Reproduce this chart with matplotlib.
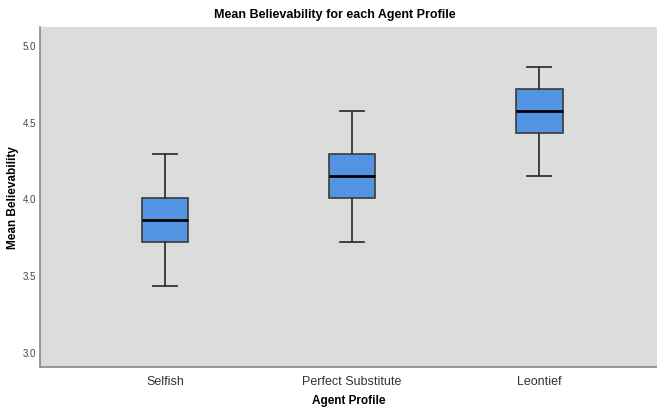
import matplotlib
matplotlib.use("Agg")
import matplotlib.pyplot as plt

plt.rcParams['font.family'] = ['Liberation Sans', 'DejaVu Sans']

categories = ["Selfish", "Perfect Substitute", "Leontief"]
whisker_low = [3.4286, 3.7143, 4.1429]
q1 = [3.7143, 4.0000, 4.4286]
median = [3.8571, 4.1429, 4.5714]
q3 = [4.0000, 4.2857, 4.7143]
whisker_high = [4.2857, 4.5714, 4.8571]
y_ticks = [3.0, 3.5, 4.0, 4.5, 5.0]

stats = []
for i, c in enumerate(categories):
    stats.append(dict(label=c, whislo=whisker_low[i], q1=q1[i], med=median[i],
                      q3=q3[i], whishi=whisker_high[i], fliers=[]))

fig = plt.figure(figsize=(6.57, 4.10), dpi=100)
ax = fig.add_axes([40/657, (410-368)/410, (657-40)/657, (368-28)/410])
ax.set_facecolor('#DCDCDC')

ax.bxp(stats, positions=[1, 2, 3], widths=0.25, patch_artist=True, showfliers=False,
       boxprops=dict(facecolor='#5294E2', edgecolor='#3a3a3a', linewidth=1.2),
       medianprops=dict(color='black', linewidth=2),
       whiskerprops=dict(color='#333333', linewidth=1.3),
       capprops=dict(color='#333333', linewidth=1.3),
       capwidths=0.125)

ax.set_xlim(0.332, 3.63)
ax.set_ylim(2.90, 5.117)
ax.set_yticks(y_ticks)
ax.set_yticklabels([f"{v:.1f}" for v in y_ticks], fontsize=7, color='#444444')
ax.set_xticks([1, 2, 3])
ax.set_xticklabels(categories, fontsize=9, color='#333333')
ax.tick_params(axis='both', length=0)
ax.tick_params(axis='x', pad=6)
ax.tick_params(axis='y', pad=3)

for s in ['top', 'right']:
    ax.spines[s].set_visible(False)
for s in ['left', 'bottom']:
    ax.spines[s].set_color('#888888')
    ax.spines[s].set_linewidth(1.2)

ax.set_xlabel("Agent Profile", fontsize=8.5, fontweight='bold', labelpad=5)
ax.set_ylabel("Mean Believability", fontsize=8.5, fontweight='bold')
ax.yaxis.set_label_coords(-21/617, 0.5)
fig.text(335/657, 1 - 15/410, "Mean Believability for each Agent Profile",
         ha='center', va='center', fontsize=9, fontweight='bold')

fig.savefig("out.png", dpi=100)
